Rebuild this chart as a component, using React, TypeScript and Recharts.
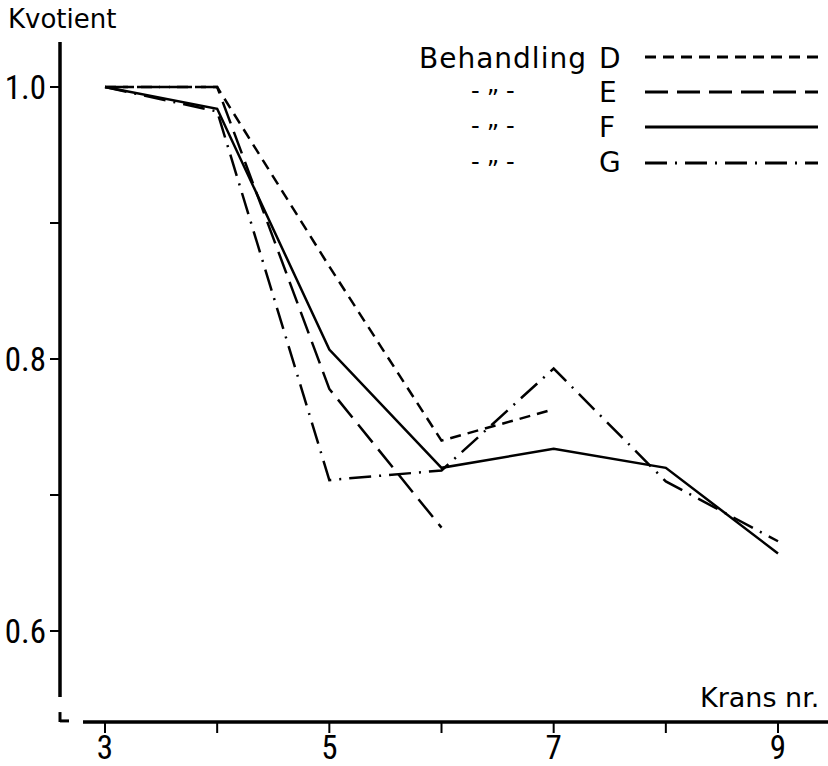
import { Legend, Line, LineChart, ReferenceLine, XAxis, YAxis } from "recharts";

// Krans nr. (x) and the quotient per treatment; D and E stop early.
const kransNr = [3, 4, 5, 6, 7, 8, 9];
const seriesD = [1.0, 1.0, 0.868, 0.74, 0.763, null, null];
const seriesE = [1.0, 1.0, 0.778, 0.676, null, null, null];
const seriesF = [1.0, 0.984, 0.807, 0.72, 0.734, 0.72, 0.657];
const seriesG = [1.0, 0.982, 0.711, 0.718, 0.793, 0.71, 0.666];

const xTicks = [3, 4, 5, 6, 7, 8, 9];
const xLabels = [3, 5, 7, 9];
const yTicks = [0.6, 0.7, 0.8, 0.9, 1.0];
const yLabels = [0.6, 0.8, 1.0];

const series = [
  { key: "D", dash: "11 7" },
  { key: "E", dash: "23 9" },
  { key: "F", dash: undefined },
  { key: "G", dash: "22 8 2 8" },
];

const data = kransNr.map((x, i) => ({
  x,
  D: seriesD[i],
  E: seriesE[i],
  F: seriesF[i],
  G: seriesG[i],
}));

const X_MIN = 2.5988;
const X_MAX = 9.4457;
const Y_MIN = 0.5331;
const Y_MAX = 1.0331;

const TEXT_FONT = "'DejaVu Sans', sans-serif";
const DIGIT_FONT = "'Liberation Sans Narrow', 'Roboto Condensed', Roboto, sans-serif";

const rowY = [57, 92, 127, 163];
const rowBase = [68, 102, 137, 172];

function LegendBlock() {
  return (
    <svg width={828} height={190} style={{ display: "block" }}>
      <text x={419} y={rowBase[0]} fontSize={28} letterSpacing={1} fontFamily={TEXT_FONT}>
        Behandling
      </text>
      {series.map((s, i) => (
        <g key={s.key}>
          {i > 0 && (
            <text x={471} y={rowY[i] + 7} fontSize={24} fontFamily={TEXT_FONT} letterSpacing={7}>
              -<tspan dy={8}>{"\u201D"}</tspan>
              <tspan dy={-8}>-</tspan>
            </text>
          )}
          <text x={599} y={rowBase[i]} fontSize={28} fontFamily={TEXT_FONT}>
            {s.key}
          </text>
          <line
            x1={645}
            x2={818}
            y1={rowY[i]}
            y2={rowY[i]}
            stroke="#000"
            strokeWidth={3}
            strokeDasharray={s.dash}
          />
        </g>
      ))}
    </svg>
  );
}

export default function App() {
  return (
    <div style={{ position: "absolute", left: 0, top: 0, width: 828, height: 766, background: "#fff" }}>
      <LineChart width={828} height={766} data={data} margin={{ top: 42, right: 0, bottom: 0, left: 0 }}>
        <XAxis
          dataKey="x"
          type="number"
          domain={[X_MIN, X_MAX]}
          ticks={xTicks}
          allowDataOverflow
          axisLine={false}
          tickLine={{ stroke: "#000", strokeWidth: 2 }}
          tickSize={11}
          tickMargin={3}
          height={44}
          interval={0}
          tick={{ fill: "#000", fontSize: 33, fontFamily: DIGIT_FONT }}
          tickFormatter={(v: number) => (xLabels.includes(v) ? String(v) : "")}
        />
        <YAxis
          type="number"
          domain={[Y_MIN, Y_MAX]}
          ticks={yTicks}
          allowDataOverflow
          axisLine={false}
          tickLine={{ stroke: "#000", strokeWidth: 2 }}
          tickSize={10}
          tickMargin={4}
          width={60}
          interval={0}
          tick={{ fill: "#000", fontSize: 33, fontFamily: DIGIT_FONT }}
          tickFormatter={(v: number) => (yLabels.some((l) => Math.abs(l - v) < 1e-6) ? v.toFixed(1) : "")}
        />
        {/* axis lines drawn as segments so they keep the gaps of the original */}
        <ReferenceLine
          segment={[
            { x: X_MIN, y: Y_MAX },
            { x: X_MIN, y: 0.5515 },
          ]}
          stroke="#000"
          strokeWidth={3.5}
          ifOverflow="visible"
        />
        <ReferenceLine
          segment={[
            { x: 2.804, y: Y_MIN },
            { x: X_MAX, y: Y_MIN },
          ]}
          stroke="#000"
          strokeWidth={3.5}
          ifOverflow="visible"
        />
        <ReferenceLine
          segment={[
            { x: X_MIN, y: 0.5404 },
            { x: X_MIN, y: Y_MIN },
          ]}
          stroke="#000"
          strokeWidth={3}
          ifOverflow="visible"
        />
        <ReferenceLine
          segment={[
            { x: X_MIN, y: Y_MIN + 0.0008 },
            { x: 2.679, y: Y_MIN + 0.0008 },
          ]}
          stroke="#000"
          strokeWidth={3}
          ifOverflow="visible"
        />
        <Legend
          layout="vertical"
          align="center"
          verticalAlign="middle"
          wrapperStyle={{ position: "absolute", left: 0, top: 0, width: 828, height: 190 }}
          content={() => <LegendBlock />}
        />
        {series.map((s) => (
          <Line
            key={s.key}
            type="linear"
            dataKey={s.key}
            stroke="#000"
            strokeWidth={2.5}
            strokeDasharray={s.dash}
            dot={false}
            activeDot={false}
            isAnimationActive={false}
            legendType="none"
          />
        ))}
      </LineChart>
      <svg
        width={828}
        height={766}
        style={{ position: "absolute", left: 0, top: 0, pointerEvents: "none" }}
      >
        <text x={8} y={28} fontSize={26} fontFamily={TEXT_FONT}>
          Kvotient
        </text>
        <text x={700} y={707} fontSize={27} fontFamily={TEXT_FONT}>
          Krans nr.
        </text>
      </svg>
    </div>
  );
}
